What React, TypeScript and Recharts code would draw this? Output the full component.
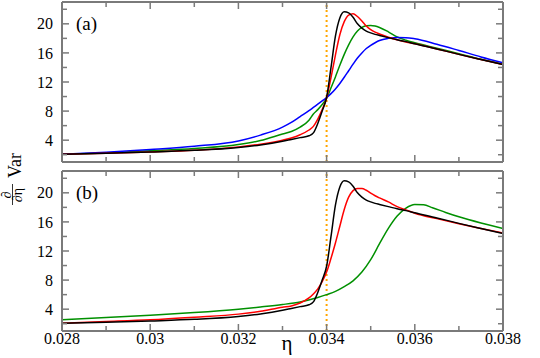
import { LineChart, Line, XAxis, YAxis, ReferenceLine } from "recharts";

const ETA = [
  0.028, 0.029, 0.03, 0.031, 0.032, 0.0325, 0.033, 0.0332, 0.0334, 0.0336, 0.0337,
  0.0338, 0.0339, 0.034, 0.0341, 0.0342, 0.0343, 0.0344, 0.0345, 0.0346, 0.0347,
  0.0348, 0.0349, 0.035, 0.0351, 0.0352, 0.0354, 0.0356, 0.0358, 0.036, 0.0365,
  0.037, 0.0375, 0.038,
];

const BLACK = [
  2.05, 2.2, 2.38, 2.6, 3.0, 3.35, 3.85, 4.1, 4.35, 4.6, 5.0, 6.3, 8.0, 9.9, 14.0,
  18.3, 20.8, 21.65, 21.5, 20.9, 20.0, 19.4, 19.0, 18.75, 18.55, 18.4, 18.1, 17.8,
  17.55, 17.25, 16.55, 15.8, 15.1, 14.42,
];
const RED_A = [
  2.05, 2.2, 2.39, 2.62, 3.07, 3.45, 4.0, 4.3, 4.75, 5.4, 5.9, 6.9, 8.2, 9.8, 12.6,
  15.7, 18.5, 20.3, 21.2, 21.4, 21.0, 20.4, 19.7, 19.2, 18.85, 18.6, 18.15, 17.8,
  17.5, 17.25, 16.55, 15.8, 15.1, 14.42,
];
const GREEN_A = [
  2.05, 2.25, 2.53, 2.85, 3.4, 3.95, 4.85, 5.2, 5.8, 6.75, 7.6, 8.2, 8.9, 9.75, 11.2,
  12.7, 14.3, 15.8, 17.1, 18.2, 19.0, 19.5, 19.75, 19.78, 19.7, 19.5, 18.9, 18.2,
  17.75, 17.4, 16.65, 15.9, 15.12, 14.45,
];
const BLUE_A = [
  2.05, 2.35, 2.72, 3.17, 3.9, 4.7, 5.8, 6.45, 7.25, 8.05, 8.5, 8.95, 9.4, 9.85,
  10.4, 11.05, 11.8, 12.65, 13.55, 14.45, 15.3, 16.0, 16.6, 17.05, 17.4, 17.7, 18.0,
  18.12, 18.1, 17.95, 17.2, 16.34, 15.45, 14.65,
];
const RED_B = [
  2.08, 2.3, 2.54, 2.9, 3.32, 3.7, 4.28, 4.45, 4.85, 5.55, 6.1, 6.8, 7.8, 9.1, 11.0,
  13.1, 15.4, 17.7, 19.4, 20.3, 20.6, 20.6, 20.35, 19.95, 19.6, 19.3, 18.75, 18.1,
  17.65, 17.2, 16.45, 15.75, 15.1, 14.48,
];

const ETA_GB = [
  0.028, 0.029, 0.03, 0.031, 0.032, 0.0325, 0.033, 0.0334, 0.0338, 0.034, 0.0342,
  0.0344, 0.0346, 0.0348, 0.035, 0.0352, 0.0354, 0.0356, 0.0358, 0.036, 0.0362,
  0.0364, 0.0367, 0.037, 0.0375, 0.038,
];
const GREEN_B = [
  2.54, 2.85, 3.18, 3.54, 4.0, 4.3, 4.64, 5.0, 5.6, 6.0, 6.45, 7.1, 7.9, 9.1, 10.8,
  13.0, 15.1, 16.8, 17.9, 18.4, 18.35, 17.95, 17.3, 16.7, 15.85, 15.1,
];

const X_TICKS = [0.028, 0.03, 0.032, 0.034, 0.036, 0.038];
const X_MINOR = [0.029, 0.031, 0.033, 0.035, 0.037];
const Y_TICKS = [4, 8, 12, 16, 20];
const Y_MINOR = [2, 6, 10, 14, 18, 22];
const ETA_C = 0.034;

const FRAME = "#7a7a7a";
const FONT = '"Liberation Serif", "DejaVu Serif", "Times New Roman", serif';

const pts = (xs: number[], ys: number[]) => xs.map((x, i) => ({ x, y: ys[i] }));

const panelA = [
  { data: pts(ETA, GREEN_A), color: "#009000" },
  { data: pts(ETA, BLUE_A), color: "#0000ff" },
  { data: pts(ETA, RED_A), color: "#ff0000" },
  { data: pts(ETA, BLACK), color: "#000000" },
];
const panelB = [
  { data: pts(ETA_GB, GREEN_B), color: "#009000" },
  { data: pts(ETA, RED_B), color: "#ff0000" },
  { data: pts(ETA, BLACK), color: "#000000" },
];

const fmtX = (v: number) => String(Number(v.toFixed(3)));
// tick marks only, no labels
const noLabel = () => <g />;

function Panel({ series, xLabels }: { series: { data: { x: number; y: number }[]; color: string }[]; xLabels: boolean }) {
  const xCommon = {
    type: "number" as const,
    dataKey: "x",
    domain: [0.028, 0.038],
    allowDataOverflow: true,
    interval: 0 as const,
  };
  const yCommon = {
    type: "number" as const,
    domain: [1, 23],
    allowDataOverflow: true,
    interval: 0 as const,
  };
  const frameLine = { stroke: FRAME, strokeWidth: 2 };
  const tickLine = { stroke: FRAME, strokeWidth: 1.5 };
  const labelStyle = { fill: "#000", fontSize: 16, style: { fontFamily: FONT } };
  return (
    <LineChart
      width={540}
      height={xLabels ? 189 : 164}
      margin={{ top: 2, right: 37, bottom: xLabels ? 0 : 2, left: 0 }}
    >
      <XAxis {...xCommon} xAxisId="b" ticks={X_TICKS} orientation="bottom" mirror height={1} tick={noLabel} tickSize={7} stroke={FRAME} axisLine={frameLine} tickLine={tickLine} />
      <XAxis {...xCommon} xAxisId="bm" ticks={X_MINOR} orientation="bottom" mirror height={1} tick={noLabel} tickSize={4} stroke={FRAME} axisLine={false} tickLine={tickLine} />
      <XAxis {...xCommon} xAxisId="t" ticks={X_TICKS} orientation="top" mirror height={1} tick={noLabel} tickSize={7} stroke={FRAME} axisLine={frameLine} tickLine={tickLine} />
      <XAxis {...xCommon} xAxisId="tm" ticks={X_MINOR} orientation="top" mirror height={1} tick={noLabel} tickSize={4} stroke={FRAME} axisLine={false} tickLine={tickLine} />
      {xLabels && (
        <XAxis
          {...xCommon}
          xAxisId="lab"
          ticks={X_TICKS}
          orientation="bottom"
          height={27}
          tickLine={false}
          axisLine={false}
          tickSize={0}
          tickMargin={2}
          tickFormatter={fmtX}
          tick={labelStyle}
        />
      )}
      <YAxis
        {...yCommon}
        yAxisId="l"
        ticks={Y_TICKS}
        orientation="left"
        width={62}
        tickLine={false}
        axisLine={false}
        tickSize={0}
        tickMargin={9}
        tick={labelStyle}
      />
      <YAxis {...yCommon} yAxisId="lt" ticks={Y_TICKS} orientation="left" mirror width={1} tick={noLabel} tickSize={7} stroke={FRAME} axisLine={frameLine} tickLine={tickLine} />
      <YAxis {...yCommon} yAxisId="ltm" ticks={Y_MINOR} orientation="left" mirror width={1} tick={noLabel} tickSize={4} stroke={FRAME} axisLine={false} tickLine={tickLine} />
      <YAxis {...yCommon} yAxisId="r" ticks={Y_TICKS} orientation="right" mirror width={1} tick={noLabel} tickSize={7} stroke={FRAME} axisLine={frameLine} tickLine={tickLine} />
      <YAxis {...yCommon} yAxisId="rm" ticks={Y_MINOR} orientation="right" mirror width={1} tick={noLabel} tickSize={4} stroke={FRAME} axisLine={false} tickLine={tickLine} />
      <ReferenceLine xAxisId="b" yAxisId="l" x={ETA_C} stroke="#ffa500" strokeWidth={2} strokeDasharray="2 3" />
      {series.map((s, i) => (
        <Line
          key={i}
          xAxisId="b"
          yAxisId="l"
          data={s.data}
          dataKey="y"
          type="monotone"
          stroke={s.color}
          strokeWidth={1.5}
          dot={false}
          activeDot={false}
          isAnimationActive={false}
        />
      ))}
    </LineChart>
  );
}

export default function App() {
  const txt = { fontFamily: FONT };
  return (
    <div style={{ position: "absolute", left: 0, top: 0, width: 540, height: 358, background: "#fff", fontFamily: FONT }}>
      <div style={{ position: "absolute", left: 0, top: 0 }}>
        <Panel series={panelA} xLabels={false} />
      </div>
      <div style={{ position: "absolute", left: 0, top: 169 }}>
        <Panel series={panelB} xLabels />
      </div>
      <svg width={540} height={358} style={{ position: "absolute", left: 0, top: 0, pointerEvents: "none" }}>
        <text x={76} y={30} fontSize={19} style={txt} fill="#000">(a)</text>
        <text x={76} y={199} fontSize={19} style={txt} fill="#000">(b)</text>
        <text x={287} y={350} fontSize={21} style={txt} fill="#000" textAnchor="middle">η</text>
        <g transform="translate(22, 206) rotate(-90)" style={txt} fill="#000">
          <text x={11} y={-11.5} fontSize={14} textAnchor="middle">∂</text>
          <line x1={1} x2={22} y1={-9.5} y2={-9.5} stroke="#000" strokeWidth={0.8} />
          <text x={11} y={0} fontSize={14} textAnchor="middle">∂η</text>
          <text x={28} y={-1} fontSize={18}>Var</text>
        </g>
      </svg>
    </div>
  );
}
